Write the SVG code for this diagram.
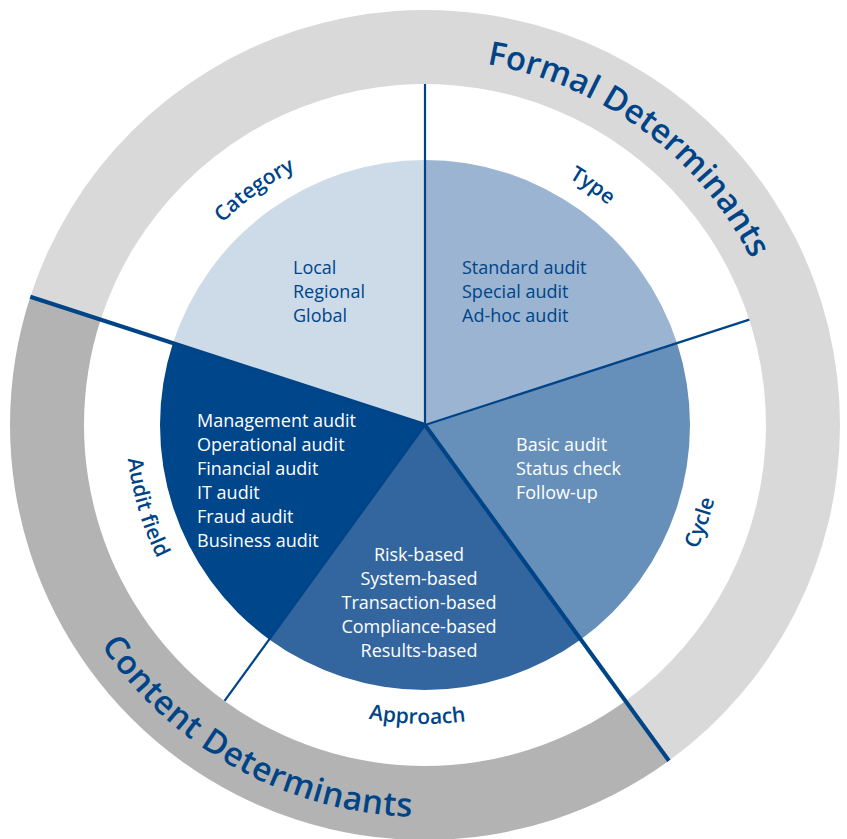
<svg xmlns="http://www.w3.org/2000/svg" xmlns:xlink="http://www.w3.org/1999/xlink" width="847" height="839" viewBox="0 0 847 839">
<style>
.lst{font-family:"Open Sans","Noto Sans","Liberation Sans",sans-serif;font-size:18px}
.dk{fill:#004488}
.wt{fill:#ffffff}
.lbl{font-family:"Open Sans","Noto Sans","Liberation Sans",sans-serif;font-size:21px;font-weight:600;fill:#004488}
.big{font-family:"Open Sans","Noto Sans","Liberation Sans",sans-serif;font-size:33px;font-weight:600;fill:#004488}
.ln{stroke:#004488;fill:none}
</style>
<defs>
<path id="pCat" d="M150.08,503.83 A286,286 0 0 1 584.93,187.90"/>
<path id="pType" d="M260.96,190.72 A286,286 0 0 1 701.26,499.02"/>
<path id="pCyc" d="M427.61,723.99 A299,299 0 0 0 615.19,194.29"/>
<path id="pApp" d="M141.45,519.87 A299,299 0 0 0 703.20,534.58"/>
<path id="pAud" d="M247.15,184.65 A299,299 0 0 0 406.75,723.44"/>
<path id="pFor" d="M172.60,159.95 A366,366 0 0 1 752.83,587.74"/>
<path id="pCon" d="M53.26,300.62 A392,392 0 0 0 731.78,669.02"/>
</defs>
<rect width="847" height="839" fill="#ffffff"/>
<g id="ring-formal">
<path d="M30.31,296.76 A415,415 0 1 1 668.93,760.74 L625.44,700.88 A341,341 0 1 0 100.69,319.62 Z" fill="#d9d9d9"/>
<text class="big"><textPath xlink:href="#pFor" href="#pFor" startOffset="50%" text-anchor="middle">Formal Determinants</textPath></text>
</g>
<g id="ring-content">
<path d="M668.93,760.74 A415,415 0 0 1 30.31,296.76 L100.69,319.62 A341,341 0 0 0 625.44,700.88 Z" fill="#b3b3b3"/>
<text class="big" letter-spacing="0.6"><textPath xlink:href="#pCon" href="#pCon" startOffset="49.8%" text-anchor="middle">Content Determinants</textPath></text>
</g>
<g id="category">
<path d="M425,425 L172.97,343.11 A265,265 0 0 1 425,160 Z" fill="#cddbe8"/>
<text class="lbl"><textPath xlink:href="#pCat" href="#pCat" startOffset="50%" text-anchor="middle">Category</textPath></text>
<text class="lst dk"><tspan x="293" y="274">Local</tspan><tspan x="293" y="298">Regional</tspan><tspan x="293" y="322">Global</tspan></text>
</g>
<g id="type">
<path d="M425,425 L425,160 A265,265 0 0 1 677.03,343.11 Z" fill="#9ab4d1"/>
<text class="lbl"><textPath xlink:href="#pType" href="#pType" startOffset="50%" text-anchor="middle">Type</textPath></text>
<text class="lst dk"><tspan x="462" y="274">Standard audit</tspan><tspan x="462" y="298">Special audit</tspan><tspan x="462" y="322">Ad-hoc audit</tspan></text>
</g>
<g id="cycle">
<path d="M425,425 L677.03,343.11 A265,265 0 0 1 580.76,639.39 Z" fill="#6690b9"/>
<text class="lbl"><textPath xlink:href="#pCyc" href="#pCyc" startOffset="50%" text-anchor="middle">Cycle</textPath></text>
<text class="lst wt"><tspan x="516" y="451">Basic audit</tspan><tspan x="516" y="475">Status check</tspan><tspan x="516" y="499">Follow-up</tspan></text>
</g>
<g id="approach">
<path d="M425,425 L580.76,639.39 A265,265 0 0 1 269.24,639.39 Z" fill="#33669f"/>
<text class="lbl"><textPath xlink:href="#pApp" href="#pApp" startOffset="50%" text-anchor="middle">Approach</textPath></text>
<text class="lst wt" text-anchor="middle"><tspan x="419" y="561">Risk-based</tspan><tspan x="419" y="585">System-based</tspan><tspan x="419" y="609">Transaction-based</tspan><tspan x="419" y="633">Compliance-based</tspan><tspan x="419" y="657">Results-based</tspan></text>
</g>
<g id="audit-field">
<path d="M425,425 L269.24,639.39 A265,265 0 0 1 172.97,343.11 Z" fill="#00468b"/>
<text class="lbl"><textPath xlink:href="#pAud" href="#pAud" startOffset="50%" text-anchor="middle">Audit field</textPath></text>
<text class="lst wt"><tspan x="197" y="427">Management audit</tspan><tspan x="197" y="451">Operational audit</tspan><tspan x="197" y="475">Financial audit</tspan><tspan x="197" y="499">IT audit</tspan><tspan x="197" y="523">Fraud audit</tspan><tspan x="197" y="547">Business audit</tspan></text>
</g>
<g id="connectors">
<line class="ln" x1="425" y1="425" x2="425" y2="84" stroke-width="2.2"/>
<line class="ln" x1="425" y1="425" x2="749.31" y2="319.62" stroke-width="2.2"/>
<line class="ln" x1="425" y1="425" x2="224.56" y2="700.88" stroke-width="2.2"/>
<line class="ln" x1="425" y1="425" x2="30.31" y2="296.76" stroke-width="4"/>
<line class="ln" x1="425" y1="425" x2="668.93" y2="760.74" stroke-width="4"/>
</g>
</svg>
